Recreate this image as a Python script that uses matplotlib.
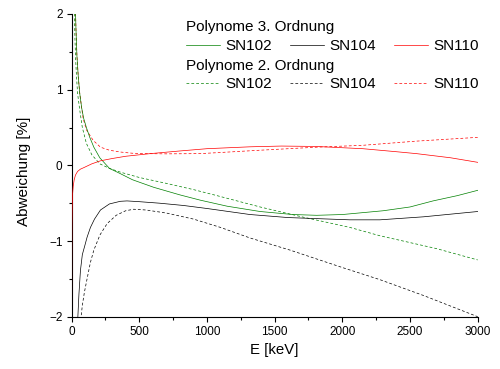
import numpy as np
import matplotlib
matplotlib.use("Agg")
import matplotlib.pyplot as plt
from matplotlib.lines import Line2D
from matplotlib.ticker import MultipleLocator

plt.rcParams['font.family'] = ['Liberation Sans', 'DejaVu Sans']

# values (E in keV, deviation in %)
e_102_p3 = [22, 27, 33, 40, 50, 61, 75, 90, 110, 135, 165, 209, 280, 361, 450, 607,
            800, 951, 1150, 1393, 1636, 1811, 2000, 2302, 2500, 2670, 2850, 3000]
v_102_p3 = [2.7, 2.2, 1.8, 1.45, 1.17, 0.95, 0.76, 0.62, 0.5, 0.37, 0.24, 0.1, -0.04, -0.11, -0.19, -0.29,
            -0.39, -0.46, -0.54, -0.61, -0.65, -0.66, -0.65, -0.6, -0.55, -0.47, -0.40, -0.33]

e_104_p3 = [44, 47, 55, 66, 80, 100, 115, 140, 170, 214, 280, 361, 410, 500, 650,
            826, 1000, 1319, 1600, 2056, 2277, 2600, 3000]
v_104_p3 = [-2.3, -2.0, -1.7, -1.39, -1.18, -1.05, -0.95, -0.82, -0.71, -0.59, -0.51, -0.475, -0.47, -0.48, -0.5,
            -0.53, -0.57, -0.65, -0.69, -0.72, -0.72, -0.68, -0.61]

e_110_p3 = [0.5, 2, 3, 5, 8, 13, 20, 29, 45, 66, 91, 150, 214, 300, 400, 582, 800,
            1000, 1319, 1550, 1800, 2152, 2400, 2547, 2800, 3000]
v_110_p3 = [-2.5, -1.2, -0.8, -0.55, -0.38, -0.27, -0.19, -0.13, -0.08, -0.05, -0.03, 0.02, 0.06, 0.09, 0.12, 0.155, 0.19,
            0.22, 0.245, 0.255, 0.25, 0.22, 0.18, 0.155, 0.1, 0.04]

e_102_p2 = [16, 20, 25, 30, 37, 45, 61, 80, 110, 150, 209, 280, 361, 500, 705, 900,
            1074, 1393, 1700, 2056, 2277, 2695, 3000]
v_102_p2 = [2.6, 2.1, 1.7, 1.42, 1.17, 0.95, 0.73, 0.5, 0.29, 0.14, 0.02, -0.04, -0.09, -0.16, -0.24, -0.32,
            -0.40, -0.55, -0.68, -0.82, -0.93, -1.10, -1.25]

e_104_p2 = [68, 71, 80, 95, 115, 140, 165, 210, 263, 330, 400, 459, 550, 700, 901, 1100,
            1319, 1614, 2000, 2277, 2600, 3000]
v_104_p2 = [-2.3, -2.0, -1.85, -1.68, -1.5, -1.28, -1.12, -0.92, -0.77, -0.66, -0.6, -0.58, -0.59, -0.63, -0.71, -0.82,
            -0.96, -1.12, -1.35, -1.51, -1.72, -2.0]

e_110_p2 = [22, 27, 33, 40, 50, 61, 75, 86, 110, 160, 214, 280, 361, 450, 531, 700,
            951, 1150, 1393, 1811, 2152, 2547, 3000]
v_110_p2 = [2.7, 2.2, 1.8, 1.45, 1.17, 0.95, 0.76, 0.62, 0.47, 0.33, 0.24, 0.2, 0.176, 0.16, 0.155, 0.152,
            0.155, 0.175, 0.2, 0.24, 0.265, 0.32, 0.37]

detectors = ['SN102', 'SN104', 'SN110']
colors = ['#008000', '#000000', '#ff0000']
cubic = [(e_102_p3, v_102_p3), (e_104_p3, v_104_p3), (e_110_p3, v_110_p3)]
quadratic = [(e_102_p2, v_102_p2), (e_104_p2, v_104_p2), (e_110_p2, v_110_p2)]

W, H = 500, 369
fig = plt.figure(figsize=(W / 100, H / 100), dpi=100)
ax = fig.add_axes([71.5 / W, 1 - 316.7 / H, (477.7 - 71.5) / W, (316.7 - 14) / H])

lw = 0.5
dash = (0, (4, 3))
for (e, v), c in zip(quadratic, colors):
    ax.plot(e, v, color=c, lw=lw, linestyle=dash, zorder=3)
for (e, v), c in zip(cubic, colors):
    ax.plot(e, v, color=c, lw=lw, zorder=3)

ax.set_xlim(0, 3000)
ax.set_ylim(-2, 2)
ax.xaxis.set_major_locator(MultipleLocator(500))
ax.xaxis.set_minor_locator(MultipleLocator(250))
ax.yaxis.set_major_locator(MultipleLocator(1))
ax.yaxis.set_minor_locator(MultipleLocator(0.5))
ax.tick_params(which='major', direction='out', length=3.5, width=0.8, labelsize=8.5, pad=3)
ax.tick_params(which='minor', direction='out', length=2, width=0.8)
for s in ['top', 'right']:
    ax.spines[s].set_visible(False)
for s in ['left', 'bottom']:
    ax.spines[s].set_linewidth(0.8)

fig.text(274 / W, 1 - 354 / H, 'E [keV]', ha='center', va='baseline', fontsize=10.8)
fig.text(24 / W, 1 - 171 / H, 'Abweichung [%]', ha='center', va='center',
         rotation=90, fontsize=11)


# hand-built legend, positions in pixels from top-left
def fx(x):
    return x / W


def fy(y):
    return 1 - y / H


def legend_block(title, title_base, row_y, row_base, style):
    fig.text(fx(186.5), fy(title_base), title, fontsize=11, va='baseline')
    for name, c, x0 in zip(detectors, colors, [186, 290, 394]):
        fig.add_artist(Line2D([fx(x0), fx(x0 + 34)], [fy(row_y), fy(row_y)],
                              color=c, lw=lw, linestyle=style))
        fig.text(fx(x0 + 39), fy(row_base), name, fontsize=11, va='baseline')


legend_block('Polynome 3. Ordnung', 30.7, 45, 50.5, '-')
legend_block('Polynome 2. Ordnung', 70, 82.7, 88.2, dash)

fig.savefig('out.png', dpi=100)
